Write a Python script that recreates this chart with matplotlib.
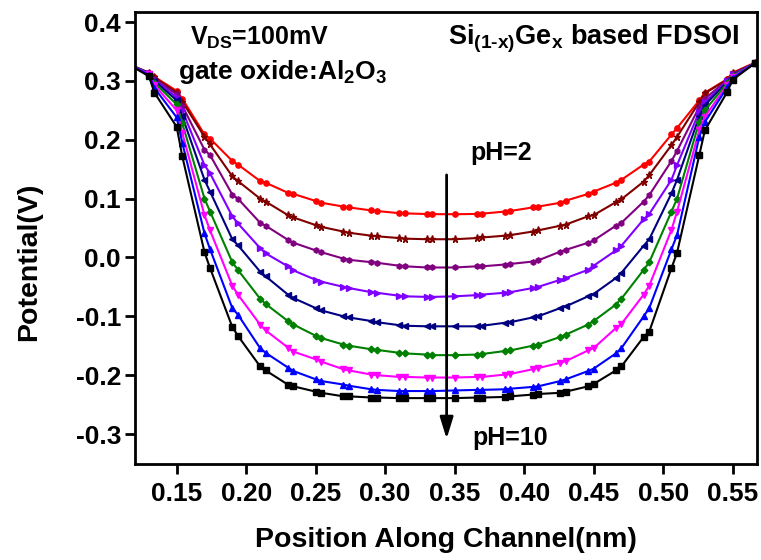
import matplotlib
matplotlib.use("Agg")
import matplotlib.pyplot as plt

plt.rcParams['font.family'] = ['Liberation Sans', 'DejaVu Sans']
plt.rcParams['font.weight'] = 'bold'
plt.rcParams['mathtext.fontset'] = 'custom'
plt.rcParams['mathtext.rm'] = 'Liberation Sans:bold'
plt.rcParams['mathtext.it'] = 'Liberation Sans:bold'
plt.rcParams['mathtext.bf'] = 'Liberation Sans:bold'
plt.rcParams['axes.unicode_minus'] = False

# positions along the channel (nm)
position = [0.11, 0.114, 0.13, 0.134, 0.15, 0.154, 0.17, 0.174, 0.19, 0.194,
            0.21, 0.214, 0.23, 0.234, 0.25, 0.254, 0.27, 0.274, 0.29, 0.294,
            0.31, 0.314, 0.33, 0.334, 0.35, 0.366, 0.37, 0.386, 0.39, 0.406,
            0.41, 0.426, 0.43, 0.446, 0.45, 0.466, 0.47, 0.486, 0.49, 0.506,
            0.51, 0.526, 0.53, 0.546, 0.55, 0.566, 0.57]

ph2 = [.335, .330, .314, .307, .283, .270, .209, .202, .164, .158, .130, .127,
       .110, .108, .096, .093, .0865, .085, .080, .079, .0753, .075, .0738, .0736,
       .0735, .074, .0745, .078, .079, .085, .0865, .093, .0966, .108, .112, .127,
       .132, .158, .163, .209, .220, .267, .280, .303, .314, .331, .334]
ph3 = [.335, .330, .314, .306, .280, .265, .205, .192, .138, .130, .100, .095,
       .072, .068, .055, .052, .044, .042, .037, .036, .033, .032, .031, .031,
       .031, .033, .034, .037, .038, .044, .046, .054, .056, .070, .072, .094,
       .099, .129, .140, .191, .205, .264, .279, .302, .313, .330, .333]
ph4 = [.335, .330, .313, .304, .277, .258, .183, .174, .107, .100, .059, .054,
       .030, .025, .012, .009, -.002, -.004, -.008, -.009, -.014, -.015, -.017, -.017,
       -.017, -.015, -.015, -.012, -.011, -.007, -.005, .010, .013, .025, .029, .054,
       .059, .095, .106, .164, .181, .256, .270, .301, .312, .330, .333]
ph5 = [.335, .330, .313, .302, .272, .250, .157, .143, .070, .058, .016, .007,
       -.015, -.022, -.038, -.041, -.050, -.052, -.059, -.060, -.065, -.066, -.067, -.067,
       -.066, -.064, -.063, -.060, -.059, -.052, -.050, -.038, -.035, -.021, -.014, .012,
       .020, .065, .074, .132, .157, .248, .264, .300, .311, .330, .333]
ph6 = [.335, .330, .312, .300, .267, .240, .132, .112, .031, .021, -.024, -.032,
       -.063, -.069, -.086, -.090, -.100, -.102, -.108, -.110, -.115, -.116, -.117, -.117,
       -.117, -.117, -.116, -.111, -.110, -.102, -.100, -.086, -.083, -.066, -.062, -.035,
       -.026, .020, .031, .109, .132, .240, .259, .298, .310, .330, .333]
ph7 = [.335, .330, .312, .297, .260, .228, .100, .078, -.008, -.021, -.070, -.079,
       -.108, -.114, -.133, -.137, -.148, -.150, -.156, -.157, -.162, -.163, -.165, -.166,
       -.166, -.165, -.164, -.159, -.158, -.150, -.148, -.135, -.131, -.114, -.108, -.080,
       -.070, -.021, -.008, .078, .100, .231, .250, .296, .309, .330, .333]
ph8 = [.335, .330, .311, .293, .250, .212, .072, .046, -.048, -.063, -.114, -.124,
       -.153, -.160, -.173, -.177, -.190, -.192, -.199, -.200, -.203, -.203, -.204, -.204,
       -.204, -.203, -.203, -.199, -.198, -.190, -.188, -.179, -.176, -.158, -.154, -.120,
       -.113, -.063, -.048, .047, .078, .216, .239, .293, .307, .330, .333]
ph9 = [.335, .330, .310, .288, .238, .195, .041, .014, -.086, -.097, -.154, -.162,
       -.187, -.193, -.207, -.210, -.216, -.218, -.224, -.225, -.227, -.227, -.227, -.227,
       -.226, -.225, -.225, -.224, -.223, -.220, -.219, -.210, -.207, -.193, -.189, -.163,
       -.154, -.100, -.086, .014, .038, .205, .230, .289, .305, .330, .333]
ph10 = [.335, .330, .308, .280, .222, .172, .009, -.018, -.118, -.133, -.185, -.192,
        -.216, -.219, -.228, -.230, -.236, -.236, -.238, -.238, -.239, -.239, -.239, -.239,
        -.239, -.238, -.238, -.237, -.236, -.233, -.232, -.230, -.228, -.219, -.215, -.192,
        -.185, -.135, -.126, -.018, .008, .174, .216, .281, .302, .330, .333]

curves = [
    ("pH=2", ph2, "#ff0000", "o"),
    ("pH=3", ph3, "#800000", "*"),
    ("pH=4", ph4, "#800080", "h"),
    ("pH=5", ph5, "#8000ff", ">"),
    ("pH=6", ph6, "#000080", "<"),
    ("pH=7", ph7, "#008000", "D"),
    ("pH=8", ph8, "#ff00ff", "v"),
    ("pH=9", ph9, "#0000ff", "^"),
    ("pH=10", ph10, "#000000", "s"),
]

fig = plt.figure(figsize=(7.61, 5.60), dpi=100)
ax = fig.add_axes([0.1774, 0.1714, 0.8173, 0.807])

for name, vals, col, mk in curves:
    ms = 3.8
    if mk == "*":
        ms = 5.2
    elif mk == "D":
        ms = 3.4
    ax.plot(position, vals, color=col, marker=mk, markersize=ms, linewidth=1.5, label=name)

ax.set_xlim(0.12, 0.5675)
ax.set_ylim(-0.351, 0.417)
ax.set_xticks([0.15, 0.20, 0.25, 0.30, 0.35, 0.40, 0.45, 0.50, 0.55])
ax.set_yticks([-0.3, -0.2, -0.1, 0.0, 0.1, 0.2, 0.3, 0.4])
ax.set_xticklabels(["0.15", "0.20", "0.25", "0.30", "0.35", "0.40", "0.45", "0.50", "0.55"])
ax.set_yticklabels(["-0.3", "-0.2", "-0.1", "0.0", "0.1", "0.2", "0.3", "0.4"])
ax.tick_params(direction='out', length=7, width=2, labelsize=19, pad=6)
ax.tick_params(axis='y', pad=3)
for sp in ax.spines.values():
    sp.set_linewidth(2)

ax.set_xlabel("Position Along Channel(nm)", fontsize=20.5, fontweight='bold', labelpad=15)
ax.set_ylabel("Potential(V)", fontsize=20.5, fontweight='bold')
ax.yaxis.set_label_coords(-0.15, 0.447)

ax.text(0.1597, 0.362, r"V$_{DS}$=100mV", fontsize=18, fontweight='bold', va='baseline')
ax.text(0.151, 0.303, r"gate oxide:Al$_2$O$_3$", fontsize=19, fontweight='bold', va='baseline')
ax.text(0.345, 0.362, r"Si$_{(1\text{-}x)}$Ge$_x$ based FDSOI", fontsize=19.5, fontweight='bold', va='baseline')

ax.annotate("", xy=(0.3442, -0.313), xytext=(0.3442, 0.145),
            arrowprops=dict(arrowstyle='-|>,head_length=1.3,head_width=0.4', color='black', lw=2))
ax.text(0.3615, 0.166, "pH=2", fontsize=18, fontweight='bold', va='baseline')
ax.text(0.363, -0.318, "pH=10", fontsize=18, fontweight='bold', va='baseline')

fig.savefig("out.png", dpi=100)
